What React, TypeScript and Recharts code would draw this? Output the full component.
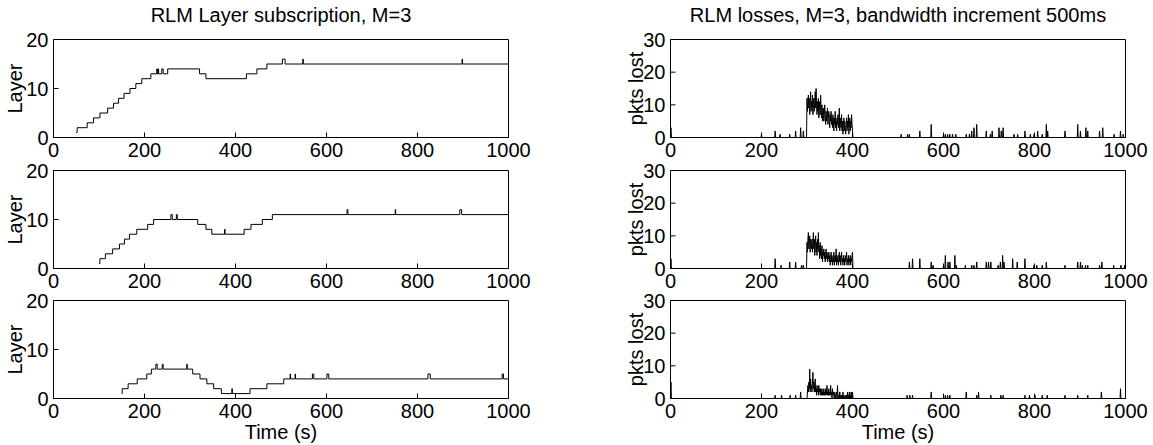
import React from "react";
import { Line, LineChart, XAxis, YAxis } from "recharts";

const TIME_TICKS = [0, 200, 400, 600, 800, 1000];
const LAYER_TICKS = [0, 10, 20];
const LOSS_TICKS = [0, 10, 20, 30];

// layer subscribed by each receiver: [time (s), layer] at every change
const layerRecv1: [number, number][] = [
  [50, 1], [52, 2], [74, 3], [88, 4], [102, 5], [119, 6], [132, 7], [143, 8],
  [155, 9], [168, 10], [181, 11], [194, 12], [214, 13], [227, 14], [228, 13],
  [230, 14], [231, 13], [238, 14], [241, 13], [251, 14], [321, 13], [335, 12],
  [424, 13], [447, 14], [469, 15], [503, 16], [509, 15], [548, 16], [549, 15],
  [898, 16], [899, 15], [1000, 15],
];
const layerRecv2: [number, number][] = [
  [100, 1], [102, 2], [114, 3], [130, 4], [145, 5], [156, 6], [167, 7], [183, 8],
  [207, 9], [220, 10], [258, 11], [261, 10], [270, 11], [272, 10], [317, 9],
  [335, 8], [348, 7], [376, 8], [377, 7], [419, 8], [434, 9], [459, 10], [481, 11],
  [645, 12], [647, 11], [751, 12], [752, 11], [893, 12], [897, 11], [1000, 11],
];
const layerRecv3: [number, number][] = [
  [150, 1], [151, 2], [164, 3], [184, 4], [205, 5], [215, 6], [225, 7], [228, 6],
  [239, 7], [241, 6], [293, 7], [294, 6], [306, 5], [322, 4], [337, 3], [352, 2],
  [369, 1], [392, 2], [393, 1], [432, 2], [469, 3], [506, 4], [520, 5], [521, 4],
  [531, 5], [532, 4], [569, 5], [572, 4], [601, 5], [605, 4], [823, 5], [828, 4],
  [986, 5], [989, 4], [1000, 4],
];

// packets lost per second during the congestion burst, starting at 300 s
const BURST_START = 300;
const lossBurst1 = [
  12, 8, 11, 13, 9, 12, 7, 10, 14, 8, 11, 9, 13, 7, 10, 12, 8, 11, 14, 9,
  15, 10, 7, 11, 8, 12, 6, 9, 11, 7, 13, 8, 6, 10, 5, 8, 9, 5, 7, 10,
  6, 4, 8, 5, 7, 9, 4, 6, 8, 5, 3, 7, 5, 8, 4, 6, 3, 7, 5, 2,
  6, 4, 8, 3, 5, 2, 6, 4, 7, 3, 5, 9, 2, 6, 4, 3, 7, 2, 5, 1,
  4, 6, 2, 5, 3, 1, 4, 6, 2, 5, 3, 7, 1, 4, 6, 2, 5, 3, 7, 4, 2,
];
const lossBurst2 = [
  8, 5, 9, 11, 6, 8, 10, 5, 9, 7, 6, 9, 5, 8, 11, 6, 9, 4, 7, 10,
  5, 8, 4, 9, 6, 11, 5, 7, 3, 8, 4, 6, 3, 7, 2, 5, 4, 6, 3, 5,
  2, 4, 6, 3, 5, 2, 4, 3, 5, 2, 4, 1, 3, 5, 2, 4, 1, 3, 2, 5,
  1, 3, 4, 2, 6, 1, 3, 2, 4, 1, 3, 5, 2, 4, 1, 3, 5, 2, 3, 1,
  4, 2, 3, 1, 4, 2, 3, 5, 1, 3, 2, 4, 1, 3, 2, 4, 1, 3, 2, 4, 5,
];
const lossBurst3 = [
  0, 2, 4, 2, 5, 3, 9, 2, 6, 3, 4, 2, 5, 8, 3, 5, 2, 4, 6, 2,
  3, 1, 4, 2, 3, 1, 4, 2, 3, 1, 3, 2, 1, 3, 1, 2, 1, 3, 1, 2,
  1, 3, 1, 2, 4, 1, 2, 1, 3, 1, 2, 1, 4, 1, 2, 0, 3, 1, 2, 1,
  0, 2, 1, 0, 1, 2, 0, 4, 1, 0, 1, 0, 2, 1, 0, 1, 0, 1, 0, 2,
  0, 1, 0, 0, 1, 0, 0, 1, 0, 2, 0, 1, 0, 2, 0, 1, 0, 2, 0, 1, 2,
];

// isolated losses outside the burst: [time (s), pkts lost]
const lossSpikes1: [number, number][] = [
  [1, 3], [200, 1], [230, 2], [241, 1], [262, 1], [275, 2], [286, 3], [292, 2],
  [507, 1], [521, 1], [525, 1], [548, 2], [573, 4], [600, 1], [604, 1], [609, 1],
  [614, 1], [620, 1], [627, 1], [650, 1], [657, 1], [662, 2], [667, 3], [673, 4],
  [694, 2], [703, 1], [707, 2], [722, 3], [727, 2], [731, 3], [755, 1], [763, 1],
  [779, 2], [791, 1], [799, 1], [807, 2], [817, 1], [826, 4], [829, 2], [867, 2],
  [895, 4], [901, 2], [913, 3], [917, 2], [943, 2], [950, 3], [975, 1], [989, 2],
  [995, 1],
];
const lossSpikes2: [number, number][] = [
  [1, 3], [230, 3], [243, 1], [262, 2], [275, 2], [288, 1], [292, 1], [525, 2],
  [532, 3], [548, 3], [573, 2], [577, 1], [600, 1], [604, 4], [610, 2], [614, 2],
  [625, 4], [628, 1], [648, 1], [662, 1], [667, 1], [673, 2], [694, 2], [699, 2],
  [704, 2], [720, 1], [725, 2], [730, 4], [733, 2], [752, 3], [762, 2], [779, 3],
  [799, 1], [805, 1], [817, 1], [826, 2], [867, 1], [895, 2], [901, 2], [905, 1],
  [912, 1], [917, 1], [943, 1], [948, 2], [974, 1], [990, 1], [998, 1],
];
const lossSpikes3: [number, number][] = [
  [1, 5], [230, 1], [244, 1], [263, 1], [275, 1], [286, 2], [520, 1], [526, 1],
  [532, 1], [573, 2], [604, 1], [609, 1], [614, 1], [650, 2], [673, 1], [677, 2],
  [704, 1], [726, 1], [731, 1], [779, 1], [789, 1], [801, 1], [817, 1], [828, 1],
  [867, 1], [895, 1], [917, 1], [947, 2], [989, 3],
];

const FONT = "'Liberation Sans', Arial, Helvetica, sans-serif";
const PLOT_W = 455;
const PLOT_H = 98;
const YW = 53;
const PAD_TOP = 12;
const PAD_RIGHT = 30;

type Pt = { t: number; v: number };

function steps(rows: [number, number][]): Pt[] {
  return rows.map(([t, v]) => ({ t, v }));
}

function losses(burst: number[], spikes: [number, number][]): Pt[] {
  const v: number[] = new Array(1001).fill(0);
  burst.forEach((x, i) => {
    v[BURST_START + i] = x;
  });
  spikes.forEach(([t, x]) => {
    v[t] = x;
  });
  return v.map((x, t) => ({ t, v: x }));
}

function Panel({
  left,
  top,
  data,
  step,
  yMax,
  yTicks,
  yLabel,
  labelOffset,
  xLabel,
}: {
  left: number;
  top: number;
  data: Pt[];
  step: boolean;
  yMax: number;
  yTicks: number[];
  yLabel: string;
  labelOffset: number;
  xLabel?: string;
}) {
  const bottomH = xLabel ? 46 : 30;
  const width = YW + PLOT_W + 1 + 1 + PAD_RIGHT;
  const height = PAD_TOP + 1 + PLOT_H + bottomH + 1;
  const tickStyle = { fontSize: 20, fill: "#000", fontFamily: FONT };
  return (
    <div style={{ position: "absolute", left: left - YW, top: top - 1 - PAD_TOP }}>
      <LineChart
        width={width}
        height={height}
        data={data}
        margin={{ top: PAD_TOP + 0.5, right: PAD_RIGHT + 0.5, bottom: 0.5, left: 0.5 }}
      >
        <XAxis
          xAxisId="b"
          dataKey="t"
          type="number"
          domain={[0, 1000]}
          ticks={TIME_TICKS}
          interval={0}
          height={bottomH}
          tickSize={-5}
          tickMargin={10}
          tick={tickStyle}
          axisLine={{ stroke: "#000" }}
          tickLine={{ stroke: "#000" }}
          label={
            xLabel
              ? { value: xLabel, position: "insideBottom", offset: 5.5, fontSize: 20, fill: "#000", fontFamily: FONT }
              : undefined
          }
        />
        <XAxis
          xAxisId="t"
          orientation="top"
          dataKey="t"
          type="number"
          domain={[0, 1000]}
          ticks={TIME_TICKS}
          interval={0}
          height={1}
          tickSize={-5}
          tick={false}
          axisLine={{ stroke: "#000" }}
          tickLine={{ stroke: "#000" }}
        />
        <YAxis
          yAxisId="l"
          type="number"
          domain={[0, yMax]}
          ticks={yTicks}
          interval={0}
          width={YW}
          tickSize={-5}
          tickMargin={10}
          tick={tickStyle}
          axisLine={{ stroke: "#000" }}
          tickLine={{ stroke: "#000" }}
          label={{
            value: yLabel,
            angle: -90,
            position: "insideLeft",
            offset: labelOffset,
            fontSize: 20,
            fill: "#000",
            fontFamily: FONT,
            style: { textAnchor: "middle" },
          }}
        />
        <YAxis
          yAxisId="r"
          orientation="right"
          type="number"
          domain={[0, yMax]}
          ticks={yTicks}
          interval={0}
          width={1}
          tickSize={-5}
          tick={false}
          axisLine={{ stroke: "#000" }}
          tickLine={{ stroke: "#000" }}
        />
        <Line
          xAxisId="b"
          yAxisId="l"
          dataKey="v"
          type={step ? "stepAfter" : "linear"}
          stroke="#000"
          strokeWidth={1}
          dot={false}
          activeDot={false}
          isAnimationActive={false}
        />
      </LineChart>
    </div>
  );
}

const ROWS = [39, 170, 300];
const LEFT_X = 53;
const RIGHT_X = 670;

export default function App() {
  const layers = [layerRecv1, layerRecv2, layerRecv3].map(steps);
  const lost = [
    losses(lossBurst1, lossSpikes1),
    losses(lossBurst2, lossSpikes2),
    losses(lossBurst3, lossSpikes3),
  ];
  const titleStyle: React.CSSProperties = {
    position: "absolute",
    top: 5,
    fontSize: 20,
    lineHeight: "20px",
    textAlign: "center",
    width: PLOT_W,
    whiteSpace: "nowrap",
  };
  return (
    <div
      style={{
        position: "absolute",
        left: 0,
        top: 0,
        width: 1153,
        height: 445,
        background: "#fff",
        fontFamily: FONT,
        color: "#000",
        overflow: "hidden",
      }}
    >
      <div style={{ ...titleStyle, left: LEFT_X + 0.5 }}>RLM Layer subscription, M=3</div>
      <div style={{ ...titleStyle, left: RIGHT_X + 0.5 }}>
        RLM losses, M=3, bandwidth increment 500ms
      </div>
      {ROWS.map((top, i) => (
        <Panel
          key={"l" + i}
          left={LEFT_X}
          top={top}
          data={layers[i]}
          step
          yMax={20}
          yTicks={LAYER_TICKS}
          yLabel="Layer"
          labelOffset={14.5}
          xLabel={i === 2 ? "Time (s)" : undefined}
        />
      ))}
      {ROWS.map((top, i) => (
        <Panel
          key={"r" + i}
          left={RIGHT_X}
          top={top}
          data={lost[i]}
          step={false}
          yMax={30}
          yTicks={LOSS_TICKS}
          yLabel="pkts lost"
          labelOffset={18.5}
          xLabel={i === 2 ? "Time (s)" : undefined}
        />
      ))}
    </div>
  );
}
